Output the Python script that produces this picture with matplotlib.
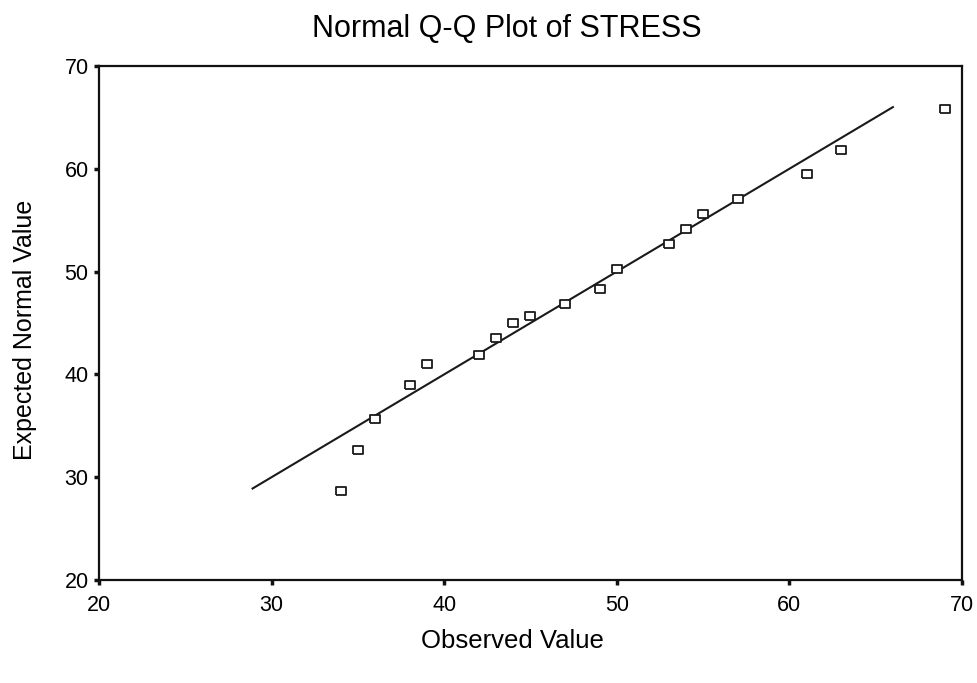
import matplotlib
matplotlib.use('Agg')
import matplotlib.pyplot as plt

plt.rcParams['font.family'] = ['Liberation Sans', 'DejaVu Sans']

# Observed STRESS scores and their expected normal quantiles
observed = [34, 35, 36, 38, 39, 42, 43, 44, 45, 47, 49, 50, 53, 54, 55, 57, 61, 63, 69]
expected = [28.7, 32.6, 35.7, 39.0, 41.0, 41.9, 43.5, 45.0, 45.7, 46.85,
            48.3, 50.25, 52.7, 54.1, 55.6, 57.05, 59.5, 61.8, 65.8]

# reference line y = x over the range of expected values
ref_x = [28.9, 66.0]
ref_y = [28.9, 66.0]

x_ticks = [20, 30, 40, 50, 60, 70]
y_ticks = [20, 30, 40, 50, 60, 70]

fig = plt.figure(figsize=(9.77, 6.83), dpi=100)
ax = fig.add_axes([0.1013, 0.1508, 0.8833, 0.7526])

ax.plot(ref_x, ref_y, color='#1a1a1a', lw=1.5, zorder=2)

# slightly flat open boxes
box = [(-1, -0.7), (1, -0.7), (1, 0.7), (-1, 0.7), (-1, -0.7)]
ax.plot(observed, expected, linestyle='none', marker=box, markersize=7.5,
        markerfacecolor='white', markeredgecolor='#1a1a1a',
        markeredgewidth=1.3, zorder=3)

ax.set_xlim(20, 70)
ax.set_ylim(20, 70)
ax.set_xticks(x_ticks)
ax.set_yticks(y_ticks)
ax.tick_params(direction='out', length=3.5, width=2.5, labelsize=15.5,
               color='#111111')
ax.tick_params(axis='x', pad=7)
ax.tick_params(axis='y', pad=4)

for sp in ax.spines.values():
    sp.set_linewidth(1.6)
    sp.set_color('#111111')

ax.set_xlabel('Observed Value', fontsize=18.5, labelpad=10)
ax.set_ylabel('Expected Normal Value', fontsize=18, labelpad=20)
# axis titles sit a little off the axes centre
ax.xaxis.label.set_x(0.479)
ax.yaxis.label.set_y(0.486)
fig.suptitle('Normal Q-Q Plot of STRESS', fontsize=22, x=0.519, y=0.98)

fig.savefig('out.png', dpi=100)
